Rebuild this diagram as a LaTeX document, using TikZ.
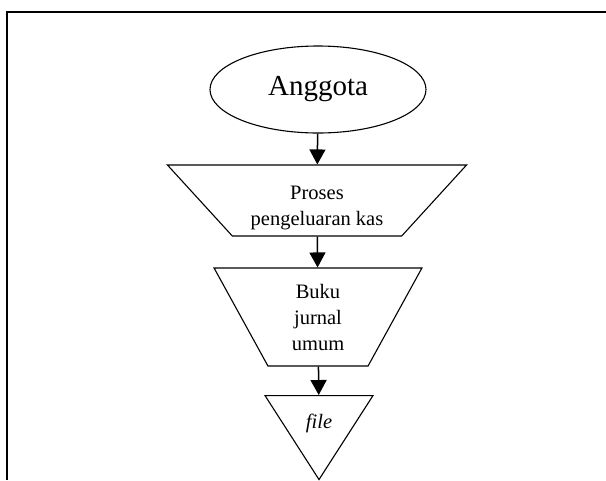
\documentclass[tikz,border=0pt]{standalone}
\usepackage{fontspec}
\setmainfont{Liberation Serif}
\usetikzlibrary{shapes.geometric,arrows.meta}

\begin{document}
\begin{tikzpicture}[x=1pt, y=-1pt,
		bentuk/.style={draw, line width=1.1pt, inner sep=0pt, align=center, font=\fontsize{20.5}{26}\selectfont},
		panah/.style={line width=1.5pt, -{Triangle[length=15pt,width=16pt]}}]
				\useasboundingbox (0,0) rectangle (606,480);

				% bingkai
				\draw[line width=1.5pt] (7,480) -- (7,12) -- (606,12);

				% bentuk
				\node[bentuk, ellipse, minimum width=216pt, minimum height=87pt, font=\fontsize{29}{34}\selectfont] (A) at (318, 89.5) {Anggota};
				\node[bentuk, trapezium, trapezium stretches=true, shape border rotate=180, trapezium left angle=49, trapezium right angle=49, minimum width=300pt, minimum height=71pt] (B) at (317, 200.5) {\rule{0pt}{28pt}Proses\\pengeluaran kas};
				\node[bentuk, trapezium, trapezium stretches=true, shape border rotate=180, trapezium left angle=67, trapezium right angle=67, minimum width=208pt, minimum height=98pt] (C) at (318, 317) {Buku\\jurnal\\umum};
				\node[bentuk, isosceles triangle, isosceles triangle stretches=true, shape border rotate=270, minimum width=108pt, minimum height=84pt, anchor=apex] (D) at (319, 481) {};

				% garis
				\draw[panah] (A) -- (B);
				\draw[panah] (B) -- (C);
				\draw[panah] (C) -- (D);

				% isi
				\node[font=\fontsize{20.5}{26}\selectfont\itshape] (Dt) at (319, 423) {file};

\end{tikzpicture}
\end{document}
